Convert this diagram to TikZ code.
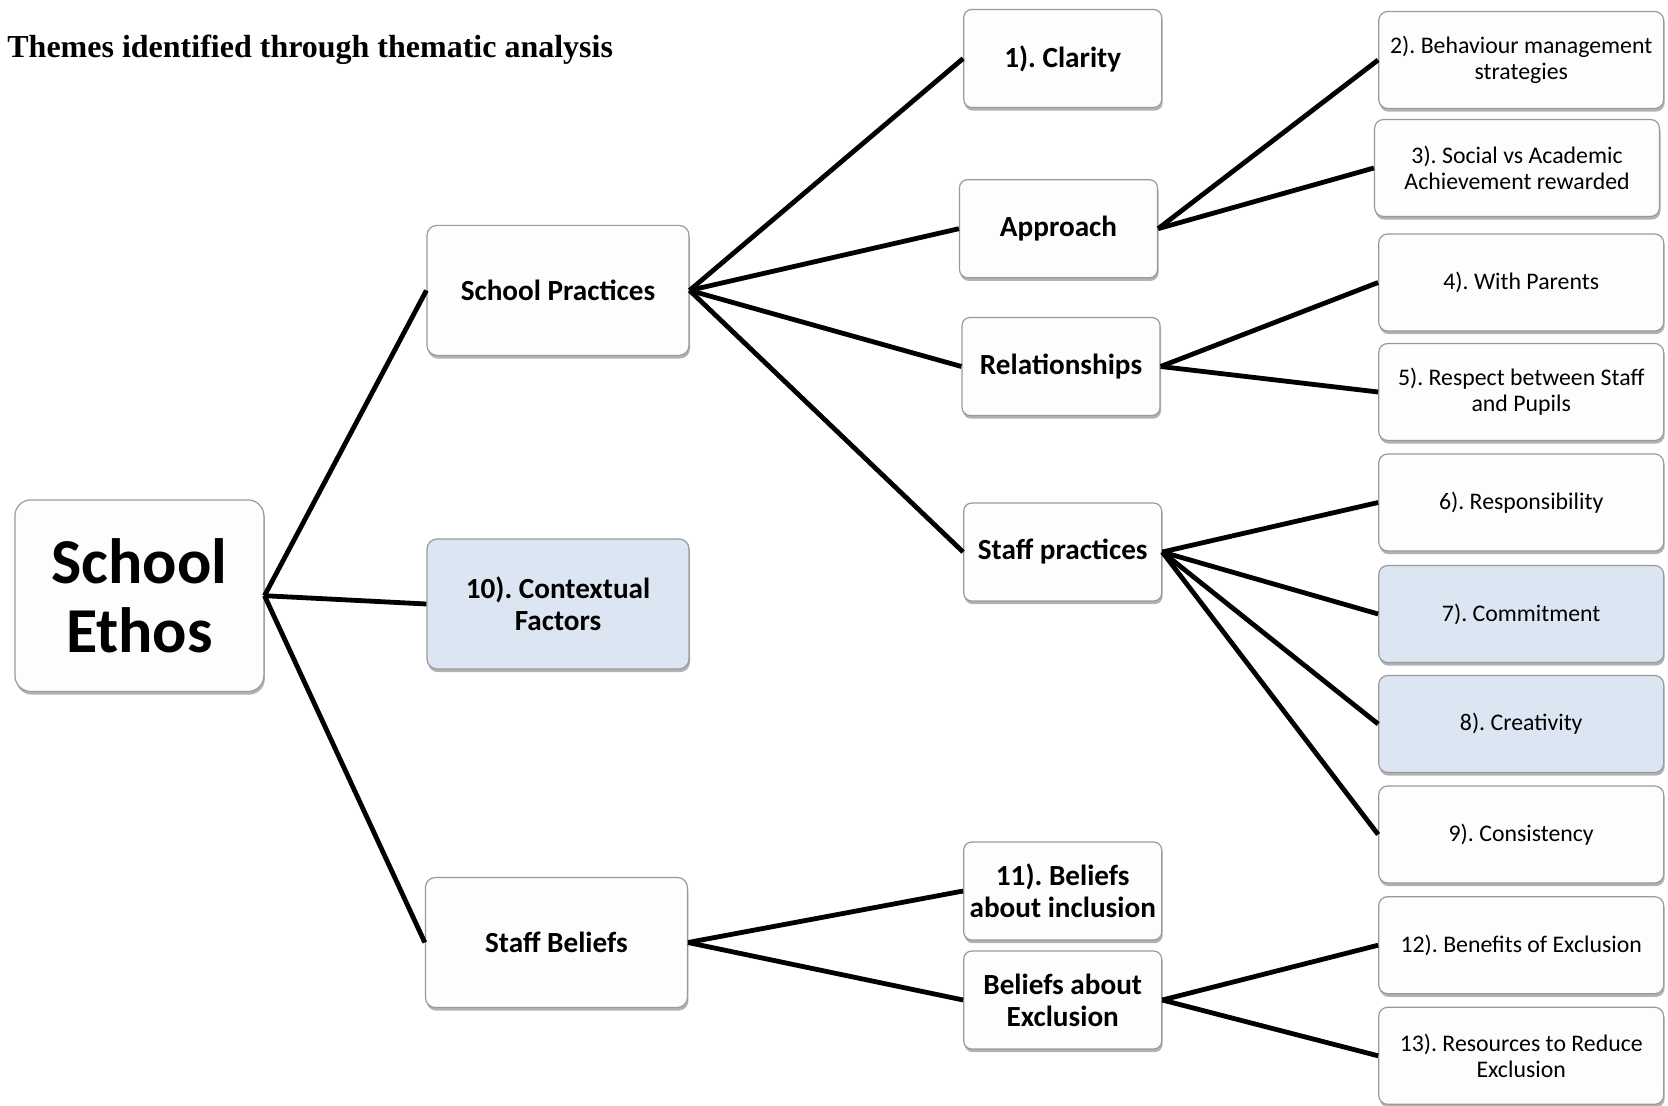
\documentclass[tikz,border=0pt]{standalone}
\usepackage{fontspec}
\setmainfont{Carlito}
\newfontfamily\titlefont{Liberation Serif}
\usepackage{tikz}
\usetikzlibrary{shadows}
\definecolor{boxline}{HTML}{9A9A9A}
\definecolor{boxwhite}{HTML}{FDFDFD}
\definecolor{paleblue}{HTML}{DCE6F2}
\frenchspacing

\begin{document}
\begin{tikzpicture}[x=0.5pt, y=-0.5pt,
  box/.style={draw=boxline, line width=0.6pt, fill=boxwhite, rounded corners=4.5pt, align=center, inner sep=0pt,
    drop shadow={shadow xshift=0.5pt, shadow yshift=-1.6pt, opacity=0.3, fill=black}},
  rootbox/.style={box, rounded corners=8pt, minimum width=124.5pt, minimum height=95.8pt, font=\fontsize{32}{34.5}\selectfont\bfseries},
  topicbox/.style={box, rounded corners=5pt, minimum width=131pt, minimum height=65pt, font=\fontsize{14.6}{16}\selectfont\bfseries},
  subbox/.style={box, rounded corners=4pt, minimum width=99pt, minimum height=49pt, font=\fontsize{14.6}{16}\selectfont\bfseries},
  themebox/.style={box, minimum width=142.5pt, minimum height=48.5pt, font=\fontsize{11.9}{12.8}\selectfont},
  blue/.style={fill=paleblue},
  link/.style={line width=2.4pt}]
\useasboundingbox (0,0) rectangle (1668,1106);

\node[anchor=base west, inner sep=0pt, font=\titlefont\bfseries\fontsize{16}{19}\selectfont] (title) at (7,58) {Themes identified through thematic analysis};

\node[rootbox] (ethos) at (139.4,595.7) {School\\Ethos};

\node[topicbox] (practices) at (558,290.4) {School Practices};
\node[topicbox, blue] (context) at (558,604) {10). Contextual\\Factors};
\node[topicbox] (beliefs) at (556.4,942.5) {Staff Beliefs};

\node[subbox] (clarity) at (1062.7,58.5) {1). Clarity};
\node[subbox] (approach) at (1058.5,228.7) {Approach};
\node[subbox] (relations) at (1061,366.5) {Relationships};
\node[subbox] (staffprac) at (1062.7,552) {Staff practices};
\node[subbox] (inclusion) at (1062.7,891) {11). Beliefs\\about inclusion};
\node[subbox] (exclusion) at (1062.7,1000) {Beliefs about\\Exclusion};

\node[themebox] (behaviour) at (1521.2,60) {2). Behaviour management\\strategies};
\node[themebox] (social) at (1517,168) {3). Social vs Academic\\Achievement rewarded};
\node[themebox] (parents) at (1521.2,282.5) {4). With Parents};
\node[themebox] (respect) at (1521.2,392) {5). Respect between Staff\\and Pupils};
\node[themebox] (respons) at (1521.2,502.5) {6). Responsibility};
\node[themebox, blue] (commit) at (1521.2,614) {7). Commitment};
\node[themebox, blue] (creativity) at (1521.2,724) {8). Creativity};
\node[themebox] (consist) at (1521.2,834.5) {9). Consistency};
\node[themebox] (benefits) at (1521.2,945.2) {12). Benefits of Exclusion};
\node[themebox] (resources) at (1521.2,1055.8) {13). Resources to Reduce\\Exclusion};

\draw[link] (ethos.east) -- (practices.west);
\draw[link] (ethos.east) -- (context.west);
\draw[link] (ethos.east) -- (beliefs.west);

\draw[link] (practices.east) -- (clarity.west);
\draw[link] (practices.east) -- (approach.west);
\draw[link] (practices.east) -- (relations.west);
\draw[link] (practices.east) -- (staffprac.west);
\draw[link] (beliefs.east) -- (inclusion.west);
\draw[link] (beliefs.east) -- (exclusion.west);

\draw[link] (approach.east) -- (behaviour.west);
\draw[link] (approach.east) -- (social.west);
\draw[link] (relations.east) -- (parents.west);
\draw[link] (relations.east) -- (respect.west);
\draw[link] (staffprac.east) -- (respons.west);
\draw[link] (staffprac.east) -- (commit.west);
\draw[link] (staffprac.east) -- (creativity.west);
\draw[link] (staffprac.east) -- (consist.west);
\draw[link] (exclusion.east) -- (benefits.west);
\draw[link] (exclusion.east) -- (resources.west);
\end{tikzpicture}
\end{document}
